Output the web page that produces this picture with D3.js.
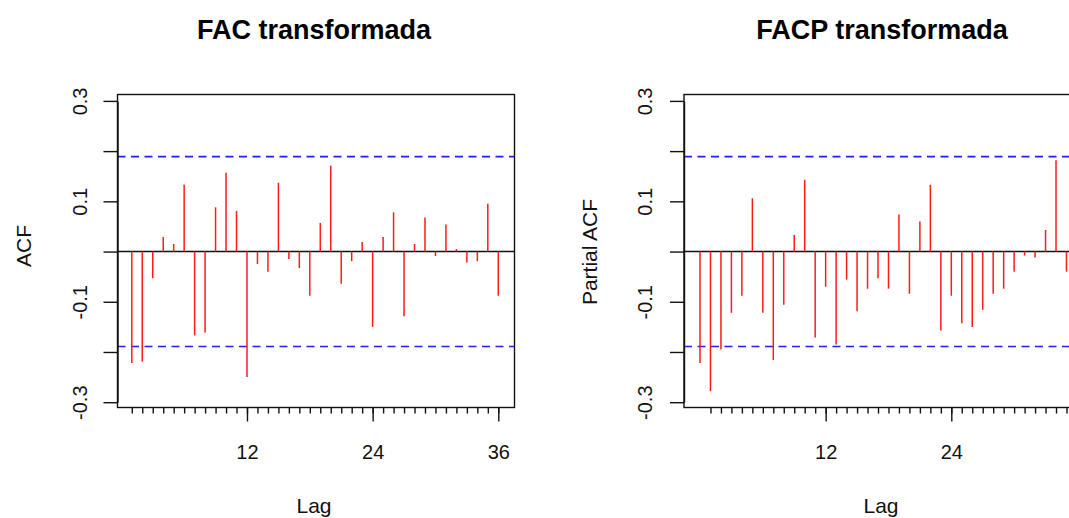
<!DOCTYPE html>
<html>
<head>
<meta charset="utf-8">
<script src="https://cdn.jsdelivr.net/npm/d3@7/dist/d3.min.js"></script>
<style>
  html, body { margin: 0; padding: 0; background: #fff; }
  svg { display: block; font-family: "Liberation Sans", Arial, sans-serif; }
</style>
</head>
<body>
<svg id="chart" width="1069" height="518"></svg>
<script>
// ---- data ----
const lags = d3.range(1, 37);
const acfValues = [
  -0.222, -0.219, -0.053, 0.029, 0.015, 0.133, -0.167, -0.161, 0.088, 0.157,
   0.081, -0.250, -0.025, -0.040, 0.137, -0.015, -0.033, -0.088, 0.057, 0.171,
  -0.064, -0.019, 0.019, -0.150, 0.029, 0.078, -0.129, 0.015, 0.068, -0.009,
   0.054, 0.005, -0.022, -0.019, 0.095, -0.088
];
const pacfValues = [
  -0.222, -0.278, -0.195, -0.122, -0.088, 0.106, -0.122, -0.216, -0.106, 0.033,
   0.143, -0.171, -0.070, -0.185, -0.056, -0.119, -0.074, -0.053, -0.074, 0.074,
  -0.084, 0.060, 0.133, -0.157, -0.088, -0.143, -0.150, -0.116, -0.084, -0.074,
  -0.040, -0.008, -0.012, 0.043, 0.182, -0.040
];
const confLimit = 0.189;
const yTickValues = [-0.3, -0.2, -0.1, 0, 0.1, 0.2, 0.3];
const yTickLabels = { "-0.3": "-0.3", "-0.1": "-0.1", "0.1": "0.1", "0.3": "0.3" };
const xMajorTicks = [12, 24, 36];
const xMinorTicks = d3.range(1, 37);
const titles = ["FAC transformada", "FACP transformada"];
const yLabels = ["ACF", "Partial ACF"];
const xLabel = "Lag";

// ---- layout ----
const W = 1069;
const svg = d3.select("#chart");
const boxTop = 94.5, boxBottom = 407.5, boxW = 397;
const y = d3.scaleLinear().domain([-0.3, 0.3]).range([402.2, 100.9]);

const panels = [
  { left: 117.5, firstBar: 131.8, values: acfValues, title: titles[0], ylab: yLabels[0],
    titleX: 314, tickLabX: 87, ylabX: 31, ylabY: 246, lagX: 314, axisShift: 0 },
  { left: 684, firstBar: 700, values: pacfValues, title: titles[1], ylab: yLabels[1],
    titleX: 882, tickLabX: 651.5, ylabX: 597, ylabY: 252, lagX: 881, axisShift: 1 }
];
const lagStep = 10.471;

panels.forEach(p => {
  const g = svg.append("g");
  const x = d3.scaleLinear().domain([1, 36]).range([p.firstBar, p.firstBar + 35 * lagStep]);
  // axis scale (PACF panel's lag ticks sit one lag to the right of the bars)
  const xa = d3.scaleLinear().domain([1 - p.axisShift, 36 - p.axisShift]).range(x.range());

  // confidence lines
  g.selectAll("line.conf").data([confLimit, -confLimit]).join("line")
    .attr("x1", p.left).attr("x2", p.left + boxW)
    .attr("y1", d => y(d)).attr("y2", d => y(d))
    .attr("stroke", "#1f1fff").attr("stroke-width", 1.6)
    .attr("stroke-dasharray", "8,5.5");

  // zero line
  g.append("line")
    .attr("x1", p.left).attr("x2", p.left + boxW)
    .attr("y1", y(0)).attr("y2", y(0))
    .attr("stroke", "#111").attr("stroke-width", 1.4);

  // bars
  g.selectAll("line.bar").data(p.values).join("line")
    .attr("x1", (d, i) => x(lags[i])).attr("x2", (d, i) => x(lags[i]))
    .attr("y1", y(0)).attr("y2", d => y(d))
    .attr("stroke", "#ff1a1a").attr("stroke-width", 1.5);

  // box
  g.append("rect")
    .attr("x", p.left).attr("y", boxTop).attr("width", boxW).attr("height", boxBottom - boxTop)
    .attr("fill", "none").attr("stroke", "#111").attr("stroke-width", 1.4);

  // y axis
  const yAxis = g.append("g").attr("transform", `translate(${p.left},0)`)
    .call(d3.axisLeft(y).tickValues(yTickValues).tickSize(14).tickSizeOuter(0)
      .tickFormat(d => yTickLabels[String(+d.toFixed(1))] || ""));
  yAxis.select(".domain").attr("stroke", "#111").attr("stroke-width", 1.4);
  yAxis.selectAll(".tick line").attr("stroke", "#111").attr("stroke-width", 1.4);
  yAxis.selectAll(".tick text")
    .attr("x", null).attr("dy", null)
    .attr("transform", `translate(${p.tickLabX - p.left},0) rotate(-90)`)
    .attr("text-anchor", "middle")
    .attr("fill", "#111").style("font-size", "20px")
    .style("font-family", "'Liberation Sans', Arial, sans-serif");

  // x axis minor ticks
  const xMinor = g.append("g").attr("transform", `translate(0,${boxBottom})`)
    .call(d3.axisBottom(xa).tickValues(xMinorTicks).tickSize(6).tickSizeOuter(0).tickFormat(""));
  xMinor.select(".domain").remove();
  xMinor.selectAll(".tick line").attr("stroke", "#111").attr("stroke-width", 1.4);

  // x axis major ticks (only those whose label fits in the visible picture)
  const majors = xMajorTicks.filter(t => xa(t) + 12 <= W);
  const xMajor = g.append("g").attr("transform", `translate(0,${boxBottom})`)
    .call(d3.axisBottom(xa).tickValues(majors).tickSize(14).tickSizeOuter(0).tickFormat(d3.format("d")));
  xMajor.select(".domain").remove();
  xMajor.selectAll(".tick line").attr("stroke", "#111").attr("stroke-width", 1.4);
  xMajor.selectAll(".tick text")
    .attr("y", 459 - boxBottom).attr("dy", null)
    .attr("fill", "#111").style("font-size", "20px")
    .style("font-family", "'Liberation Sans', Arial, sans-serif");

  // title
  svg.append("text").attr("x", p.titleX).attr("y", 38.5)
    .attr("text-anchor", "middle").attr("font-weight", "bold")
    .style("font-size", "27px").attr("fill", "#000").text(p.title);

  // x label
  svg.append("text").attr("x", p.lagX).attr("y", 513)
    .attr("text-anchor", "middle").style("font-size", "21px").attr("fill", "#111").text(xLabel);

  // y label
  svg.append("text")
    .attr("transform", `translate(${p.ylabX},${p.ylabY}) rotate(-90)`)
    .attr("text-anchor", "middle").style("font-size", "21px").attr("fill", "#111").text(p.ylab);
});
</script>
</body>
</html>
